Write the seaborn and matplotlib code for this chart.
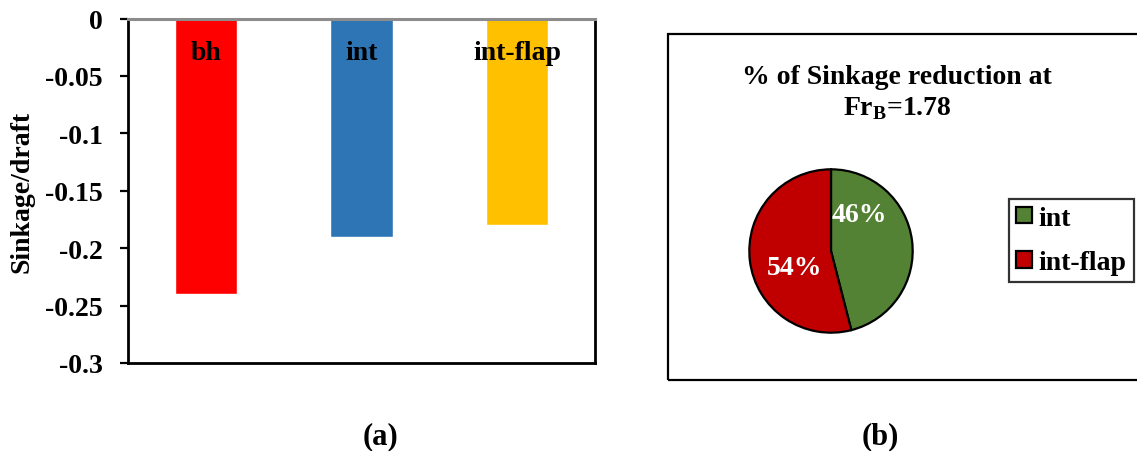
import matplotlib
matplotlib.use("Agg")
import matplotlib.pyplot as plt
from matplotlib.patches import Rectangle
import seaborn as sns
import pandas as pd

# Sinkage per configuration
configs = ["bh", "int", "int-flap"]
sinkage = [-0.24, -0.19, -0.18]
bar_colors = ["#FF0000", "#2E75B6", "#FFC000"]
yticks = [0, -0.05, -0.1, -0.15, -0.2, -0.25, -0.3]
ytick_labels = ["0", "-0.05", "-0.1", "-0.15", "-0.2", "-0.25", "-0.3"]

# Share of sinkage reduction
pie_labels = ["int", "int-flap"]
pie_shares = [46, 54]
pie_colors = ["#548235", "#C00000"]

sns.set_theme(style="white")
plt.rcParams["font.family"] = ["Liberation Serif", "DejaVu Serif"]
plt.rcParams["font.weight"] = "bold"
plt.rcParams["text.color"] = "black"
plt.rcParams["axes.labelcolor"] = "black"
plt.rcParams["ytick.color"] = "black"
plt.rcParams["xtick.color"] = "black"
plt.rcParams["mathtext.fontset"] = "custom"
plt.rcParams["mathtext.bf"] = "Liberation Serif:bold"
plt.rcParams["mathtext.rm"] = "Liberation Serif:bold"

W, H = 1137, 452
fig = plt.figure(figsize=(W / 100, H / 100), dpi=100)
fig.patch.set_facecolor("white")

# ---- (a) bar chart ----
ax = fig.add_axes([128 / W, (H - 364) / H, (595 - 128) / W, (364 - 19.5) / H])
df = pd.DataFrame({"config": configs, "sinkage": sinkage})
sns.barplot(data=df, x="config", y="sinkage", hue="config", palette=bar_colors,
            width=0.4, legend=False, ax=ax, saturation=1)
ax.set_ylim(-0.3, 0)
ax.set_xlim(-0.5, len(configs) - 0.5)
ax.set_yticks(yticks)
ax.set_yticklabels(ytick_labels, fontsize=20, fontweight="bold", color="black")
ax.set_xticks([])
ax.set_xlabel("")
ax.set_ylabel("")
ax.tick_params(axis="y", which="both", direction="out", length=6, width=1.6,
               color="black", left=True, pad=12)
for side in ["left", "right", "bottom"]:
    ax.spines[side].set_visible(True)
    ax.spines[side].set_color("black")
    ax.spines[side].set_linewidth(2)
ax.spines["top"].set_color("#8C8C8C")
ax.spines["top"].set_linewidth(2.2)
for i, name in enumerate(configs):
    ax.text(i, -0.0295, name, ha="center", va="center", fontsize=20,
            fontweight="bold", color="black")

fig.text(22 / W, (H - 192) / H, "Sinkage/draft", rotation=90, ha="center",
         va="center", fontsize=20, fontweight="bold", color="black")

# ---- (b) pie chart panel ----
fig.patches.append(Rectangle((668 / W, (H - 381) / H), 1.2, (381 - 35) / H,
                             transform=fig.transFigure, fill=False,
                             edgecolor="black", linewidth=1.6, zorder=0))

fig.text(897 / W, (H - 77) / H, "% of Sinkage reduction at", ha="center",
         va="center", fontsize=20, fontweight="bold", color="black")
fig.text(897 / W, (H - 109) / H, r"Fr$_{\mathbf{B}}$=1.78", ha="center",
         va="center", fontsize=20, fontweight="bold", color="black")

pax = fig.add_axes([748.5 / W, 117.5 / H, 165 / W, 165 / H])
wedges, _, autotexts = pax.pie(
    pie_shares, colors=pie_colors, startangle=90, counterclock=False,
    autopct="%d%%", wedgeprops=dict(edgecolor="black", linewidth=1.6),
    textprops=dict(color="white", fontsize=20, fontweight="bold"))
autotexts[0].set_position((0.35, 0.45))
autotexts[1].set_position((-0.45, -0.2))
pax.set_xlim(-1.01, 1.01)
pax.set_ylim(-1.01, 1.01)
pax.set_aspect("equal")

leg = fig.legend(wedges, pie_labels, loc="center",
                 bbox_to_anchor=(1071.5 / W, (H - 241.5) / H),
                 prop=dict(family="Liberation Serif", weight="bold", size=20),
                 frameon=True, fancybox=False, edgecolor="black",
                 handlelength=0.55, handleheight=0.55, handletextpad=0.25,
                 labelspacing=0.7, borderpad=0.25, borderaxespad=0)
leg.get_frame().set_linewidth(1.6)
for t in leg.get_texts():
    t.set_color("black")

# ---- panel captions ----
fig.text(380 / W, (H - 437) / H, "(a)", ha="center", va="center",
         fontsize=22, fontweight="bold", color="black")
fig.text(880 / W, (H - 437) / H, "(b)", ha="center", va="center",
         fontsize=22, fontweight="bold", color="black")

fig.savefig("out.png", dpi=100, facecolor="white")
